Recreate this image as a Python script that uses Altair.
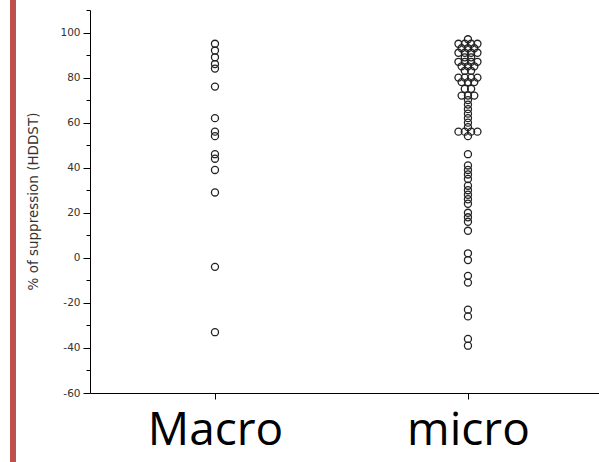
import altair as alt
import pandas as pd
from collections import Counter, defaultdict

# Groups and their measured % suppression (HDDST)
categories = ["Macro", "micro"]
macro_values = [95, 92, 89, 86, 84, 76, 62, 56, 54, 46, 44, 39, 29, -4, -33]
micro_values = [
    97,
    95, 95, 95, 95,
    93, 93, 93,
    91, 91, 91, 91,
    89, 89,
    87, 87, 87, 87,
    85, 85, 85,
    83, 83,
    80, 80, 80, 80,
    78, 78, 78,
    75, 75,
    72, 72, 72,
    70, 68, 66, 64, 62, 60, 58,
    56, 56, 56, 56,
    54, 46,
    41, 39, 37, 35, 32, 30, 28, 26, 24, 20, 18, 16, 12,
    2, -1, -8, -11, -23, -26, -36, -39,
]
y_ticks = list(range(-60, 111, 10))

# Tied values are spread side by side in a row (column-scatter layout)
SPREAD = 0.025
rows = []
for idx, (cat, vals) in enumerate(zip(categories, [macro_values, micro_values]), start=1):
    counts = Counter(vals)
    seen = defaultdict(int)
    for v in vals:
        n = counts[v]
        k = seen[v]
        seen[v] += 1
        rows.append({"group": cat, "pos": idx + (k - (n - 1) / 2) * SPREAD, "value": v})
df = pd.DataFrame(rows)

x_label_expr = f"datum.value == 1 ? '{categories[0]}' : '{categories[1]}'"

points = alt.Chart(df).mark_point(
    shape="circle", filled=False, size=50, stroke="#222", strokeWidth=1.3, opacity=1
).encode(
    x=alt.X(
        "pos:Q",
        scale=alt.Scale(domain=[0.506, 2.518], nice=False, zero=False),
        axis=alt.Axis(
            values=[1, 2],
            labelExpr=x_label_expr,
            title=None,
            grid=False,
            tickSize=6,
            labelFont="Open Sans",
            labelFontSize=46,
            labelColor="#000",
            labelBaseline="alphabetic",
            labelPadding=45,
            labelOverlap=False,
        ),
    ),
    y=alt.Y(
        "value:Q",
        scale=alt.Scale(domain=[-60, 110], nice=False, zero=False),
        axis=alt.Axis(
            values=y_ticks,
            labelExpr="datum.value % 20 == 0 ? toString(datum.value) : ''",
            tickSize={"condition": {"test": "datum.value % 20 == 0", "value": 7}, "value": 4},
            title="% of suppression (HDDST)",
            titleFont="DejaVu Sans",
            titleFontSize=13.5,
            titleFontWeight="normal",
            titleColor="#333",
            titleX=-57,
            titleY=191,
            titleBaseline="middle",
            grid=False,
            labelFont="DejaVu Sans",
            labelFontSize=10.5,
            labelColor="#333",
            labelPadding=3,
            labelOverlap=False,
        ),
    ),
)

# Slide accent bar at the far left
accent = alt.Chart(pd.DataFrame({"a": [0]})).mark_rect(color="#c0504d").encode(
    x=alt.value(-80), x2=alt.value(-74), y=alt.value(-10), y2=alt.value(452)
)

chart = alt.layer(accent, points).properties(
    width=509,
    height=383,
    autosize="none",
    padding={"left": 90, "top": 10, "right": 0, "bottom": 69},
    background="white",
).configure_view(stroke=None).configure_axis(
    domainColor="#000", tickColor="#000", domainWidth=1, tickWidth=1
)

chart.save("out.html", embed_options={"renderer": "svg", "actions": False})
